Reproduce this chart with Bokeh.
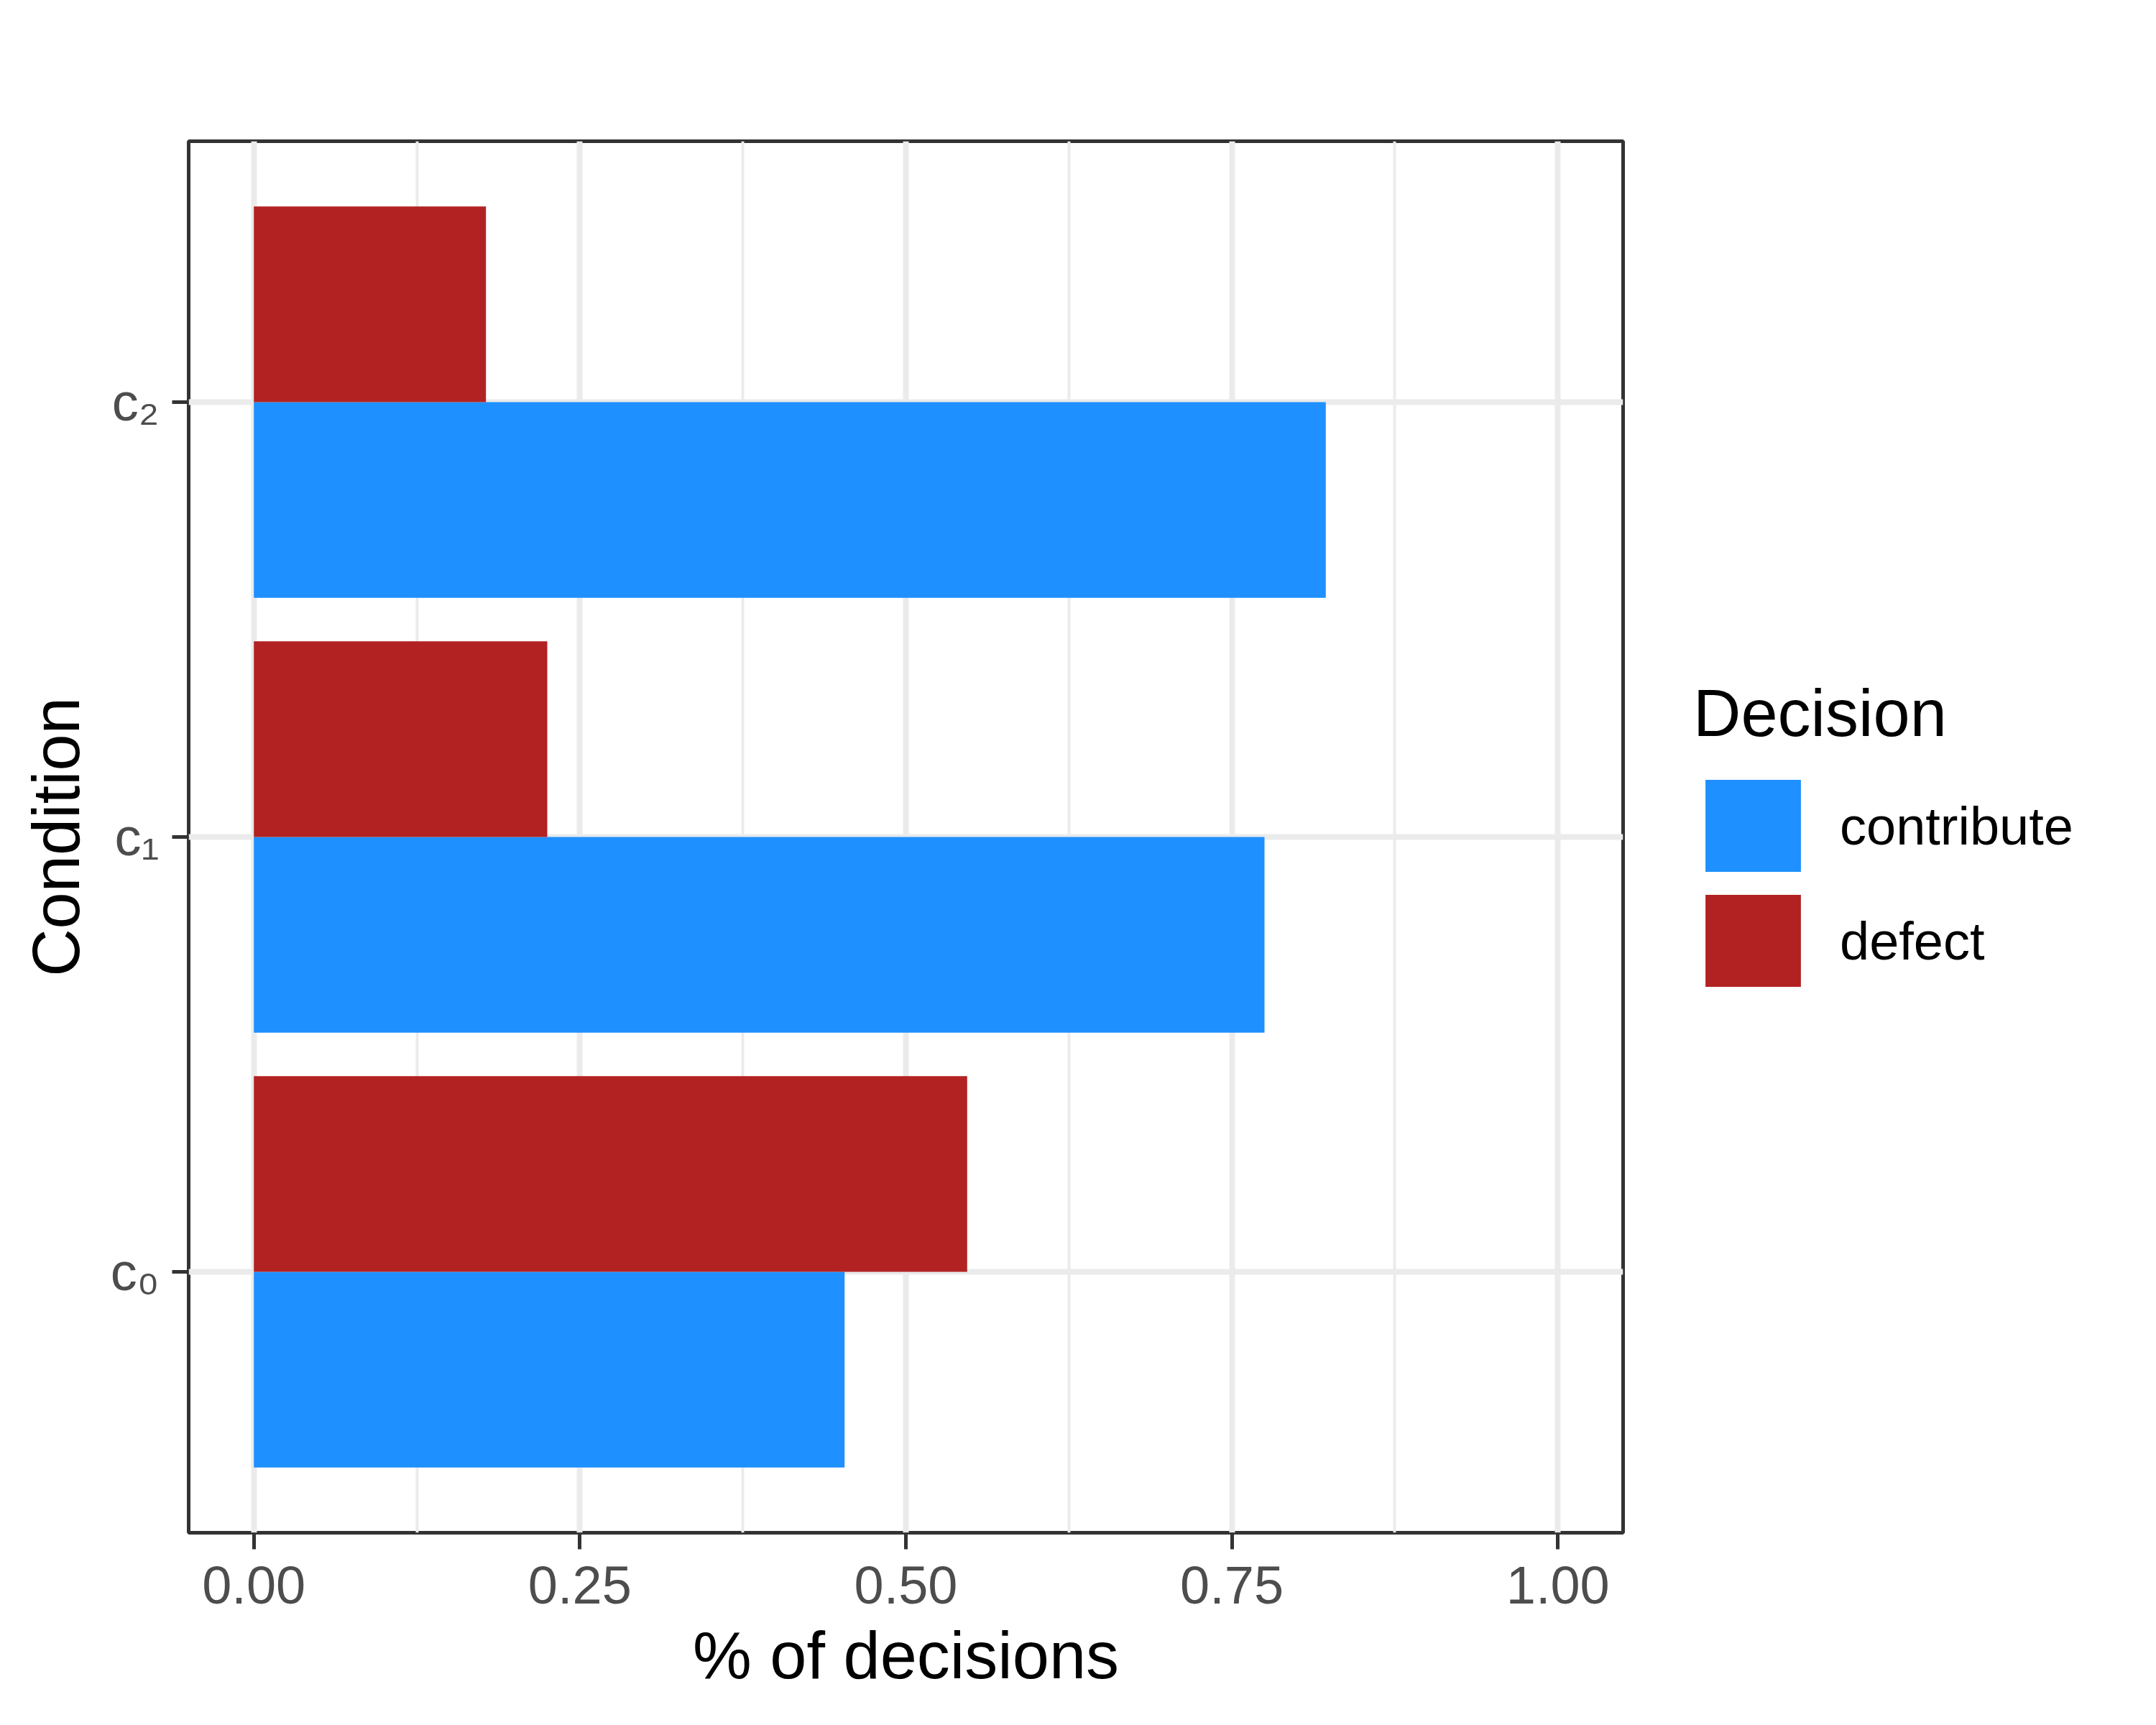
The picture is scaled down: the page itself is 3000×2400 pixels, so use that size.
from bokeh.plotting import figure
from bokeh.models import (FactorRange, Range1d, FixedTicker, Legend, LegendItem,
                          ColumnDataSource)
from bokeh.transform import dodge
from bokeh.embed import file_html
from bokeh.resources import INLINE

# ---- data ----
conditions = ["c₀", "c₁", "c₂"]
contribute = [0.453, 0.775, 0.822]
defect = [0.547, 0.225, 0.178]
series_names = ["contribute", "defect"]
series_colors = ["#1E90FF", "#B22222"]
x_ticks = [0.0, 0.25, 0.5, 0.75, 1.0]
x_tick_labels = ["0.00", "0.25", "0.50", "0.75", "1.00"]
x_minor_ticks = [0.125, 0.375, 0.625, 0.875]
x_title = "% of decisions"
y_title = "Condition"
legend_title = "Decision"

FONT = "Liberation Sans"

src = ColumnDataSource(dict(cond=conditions, contribute=contribute, defect=defect))

yr = FactorRange(factors=conditions, range_padding=0.1, range_padding_units="absolute")
xr = Range1d(-0.05, 1.05)

FRAME_W, FRAME_H = 1996, 1936
LEFT, TOP = 262, 196
p = figure(y_range=yr, x_range=xr, frame_width=FRAME_W, frame_height=FRAME_H,
           min_border_left=LEFT, min_border_top=TOP,
           min_border_right=2984 - LEFT - FRAME_W, min_border_bottom=10,
           output_backend="svg", toolbar_location=None)

r_c = p.hbar(y=dodge("cond", -0.225, range=yr), left=0, right="contribute", height=0.45,
             source=src, fill_color=series_colors[0], line_color=None)
r_d = p.hbar(y=dodge("cond", 0.225, range=yr), left=0, right="defect", height=0.45,
             source=src, fill_color=series_colors[1], line_color=None)

# frame
p.outline_line_color = "#333333"
p.outline_line_width = 5
p.background_fill_color = "white"
p.border_fill_color = "white"

# grids
p.xgrid.grid_line_color = "#EBEBEB"
p.xgrid.grid_line_width = 8
p.xgrid.minor_grid_line_color = "#EBEBEB"
p.xgrid.minor_grid_line_width = 4
p.ygrid.grid_line_color = "#EBEBEB"
p.ygrid.grid_line_width = 8

# axes
p.xaxis.ticker = FixedTicker(ticks=x_ticks, minor_ticks=x_minor_ticks)
p.xaxis.major_label_overrides = dict(zip(x_ticks, x_tick_labels))
p.xaxis.axis_label = x_title
p.yaxis.axis_label = y_title
for ax in (p.xaxis[0], p.yaxis[0]):
    ax.axis_line_color = None
    ax.major_tick_line_color = "#333333"
    ax.major_tick_line_width = 5
    ax.major_tick_out = 23
    ax.major_tick_in = 0
    ax.minor_tick_line_color = None
    ax.major_label_text_font = FONT
    ax.major_label_text_font_size = "74px"
    ax.major_label_text_color = "#4D4D4D"
    ax.axis_label_text_font = FONT
    ax.axis_label_text_font_size = "92px"
    ax.axis_label_text_font_style = "normal"
    ax.axis_label_text_color = "black"
p.xaxis.major_label_standoff = 24
p.xaxis.axis_label_standoff = 18
p.yaxis.major_label_standoff = 18
p.yaxis.axis_label_standoff = 22

legend = Legend(items=[LegendItem(label=series_names[0], renderers=[r_c]),
                       LegendItem(label=series_names[1], renderers=[r_d])],
                location="center_left", title=legend_title,
                title_text_font=FONT, title_text_font_size="92px", title_text_font_style="normal",
                title_text_color="black", title_standoff=24,
                label_text_font=FONT, label_text_font_size="74px", label_text_color="black",
                glyph_width=166, glyph_height=160, spacing=0, label_standoff=38,
                padding=0, margin=98, border_line_color=None, background_fill_alpha=0)
p.add_layout(legend, "right")

open("out.html", "w").write(file_html(p, INLINE))
